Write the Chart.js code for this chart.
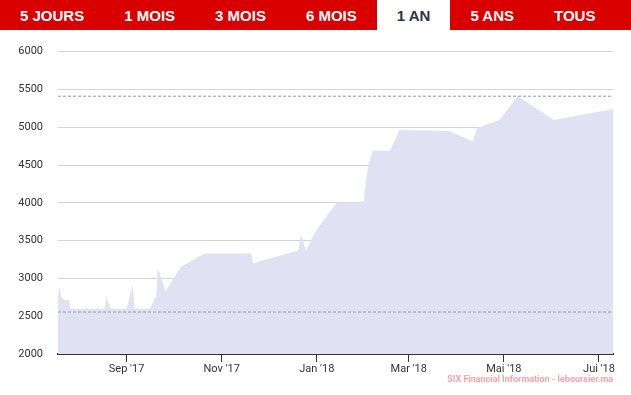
<!DOCTYPE html>
<html lang="fr">
<head>
    <meta charset="UTF-8">
    <title>1 AN</title>
    <script src="https://cdn.jsdelivr.net/npm/chart.js"></script>
    <style>
        body {
            margin: 0;
            width: 631px;
            height: 395px;
            overflow: hidden;
            background: #fff;
            position: relative;
            font-family: 'Liberation Sans', Arial, sans-serif;
        }

        .tabs {
            display: flex;
            height: 30px;
            background: #d90000;
        }

        .tab {
            padding: 0 20px;
            line-height: 31px;
            font-size: 15px;
            font-weight: bold;
            color: #fff;
            white-space: nowrap;
        }

        .tab.active {
            background: #fff;
            color: #2c3440;
        }

        .chart-wrapper {
            position: absolute;
            left: 0;
            top: 30px;
            width: 631px;
            height: 365px;
        }

        .credit {
            position: absolute;
            right: 18px;
            top: 374px;
            font-family: Roboto, sans-serif;
            font-size: 9px;
            font-weight: bold;
            color: #f5a3a3;
            white-space: nowrap;
        }
    </style>
</head>
<body>
    <div class="tabs">
        <div class="tab">5 JOURS</div>
        <div class="tab">1 MOIS</div>
        <div class="tab">3 MOIS</div>
        <div class="tab">6 MOIS</div>
        <div class="tab active">1 AN</div>
        <div class="tab">5 ANS</div>
        <div class="tab">TOUS</div>
    </div>

    <div class="chart-wrapper">
        <canvas id="priceChart"></canvas>
    </div>
    <div class="credit">SIX Financial Information - leboursier.ma</div>

    <script>
        // Price points (date, close)
        const dates = [
            '2017-07-19', '2017-07-20', '2017-07-21', '2017-07-23', '2017-07-26', '2017-07-27',
            '2017-08-18', '2017-08-19', '2017-08-22', '2017-09-01', '2017-09-05', '2017-09-06',
            '2017-09-16', '2017-09-19', '2017-09-20', '2017-09-21', '2017-09-26', '2017-10-06',
            '2017-10-21', '2017-11-20', '2017-11-21', '2017-12-20', '2017-12-22', '2017-12-25',
            '2017-12-30', '2018-01-05', '2018-01-14', '2018-01-31', '2018-02-01', '2018-02-03',
            '2018-02-06', '2018-02-17', '2018-02-23', '2018-03-27', '2018-04-11', '2018-04-14',
            '2018-04-28', '2018-05-10', '2018-06-02', '2018-07-10'
        ];
        const prices = [
            2762, 2889, 2758, 2715, 2715, 2598,
            2600, 2749, 2598, 2600, 2915, 2600,
            2600, 2732, 2760, 3141, 2830, 3154,
            3329, 3329, 3199, 3369, 3578, 3359,
            3578, 3761, 4004, 4004, 4196, 4493,
            4689, 4689, 4963, 4950, 4810, 4993,
            5094, 5410, 5094, 5242
        ];

        // High / low reference lines
        const highValue = 5410;
        const lowValue = 2555;

        const tickDates = ['2017-09-01', '2017-11-01', '2018-01-01', '2018-03-01', '2018-05-01', '2018-07-01'];
        const tickLabels = ["Sep '17", "Nov '17", "Jan '18", "Mar '18", "Mai '18", "Jui '18"];

        const origin = Date.parse('2017-09-01');
        function dayNum(d) {
            return (Date.parse(d) - origin) / 86400000;
        }

        const firstDay = dayNum(dates[0]);
        const lastDay = dayNum(dates[dates.length - 1]);

        const pricePoints = dates.map((d, i) => ({ x: dayNum(d), y: prices[i] }));

        function refLine(value) {
            return {
                data: [{ x: firstDay, y: value }, { x: lastDay, y: value }],
                borderColor: '#999999',
                borderWidth: 1,
                borderDash: [3, 2],
                pointRadius: 0,
                fill: false
            };
        }

        const ctx = document.getElementById('priceChart').getContext('2d');
        new Chart(ctx, {
            type: 'line',
            data: {
                datasets: [
                    refLine(highValue),
                    refLine(lowValue),
                    {
                        data: pricePoints,
                        backgroundColor: '#e1e1f4',
                        borderWidth: 0,
                        pointRadius: 0,
                        tension: 0,
                        fill: 'start'
                    }
                ]
            },
            options: {
                responsive: true,
                maintainAspectRatio: false,
                animation: false,
                layout: {
                    padding: { top: 18, right: 18, left: 0, bottom: 0 }
                },
                plugins: {
                    legend: { display: false },
                    tooltip: { enabled: false }
                },
                scales: {
                    x: {
                        type: 'linear',
                        min: firstDay,
                        max: lastDay,
                        afterBuildTicks: function(scale) {
                            scale.ticks = tickDates.map(d => ({ value: dayNum(d) }));
                        },
                        afterFit: function(scale) {
                            scale.height = 41;
                        },
                        grid: {
                            drawOnChartArea: false,
                            drawTicks: true,
                            tickLength: 8,
                            color: '#333333'
                        },
                        border: {
                            display: true,
                            color: '#333333',
                            width: 2
                        },
                        ticks: {
                            autoSkip: false,
                            maxRotation: 0,
                            padding: 1,
                            color: '#333333',
                            font: { family: 'Roboto', size: 11 },
                            callback: function(value, index) {
                                return tickLabels[index];
                            }
                        }
                    },
                    y: {
                        min: 2000,
                        max: 6000,
                        afterFit: function(scale) {
                            scale.width = 58;
                        },
                        grid: {
                            color: '#d4d4d4',
                            drawTicks: false
                        },
                        border: { display: false },
                        ticks: {
                            stepSize: 500,
                            padding: 15,
                            color: '#333333',
                            font: { family: 'Roboto', size: 11 },
                            callback: function(value) {
                                return String(value);
                            }
                        }
                    }
                }
            }
        });
    </script>
</body>
</html>
